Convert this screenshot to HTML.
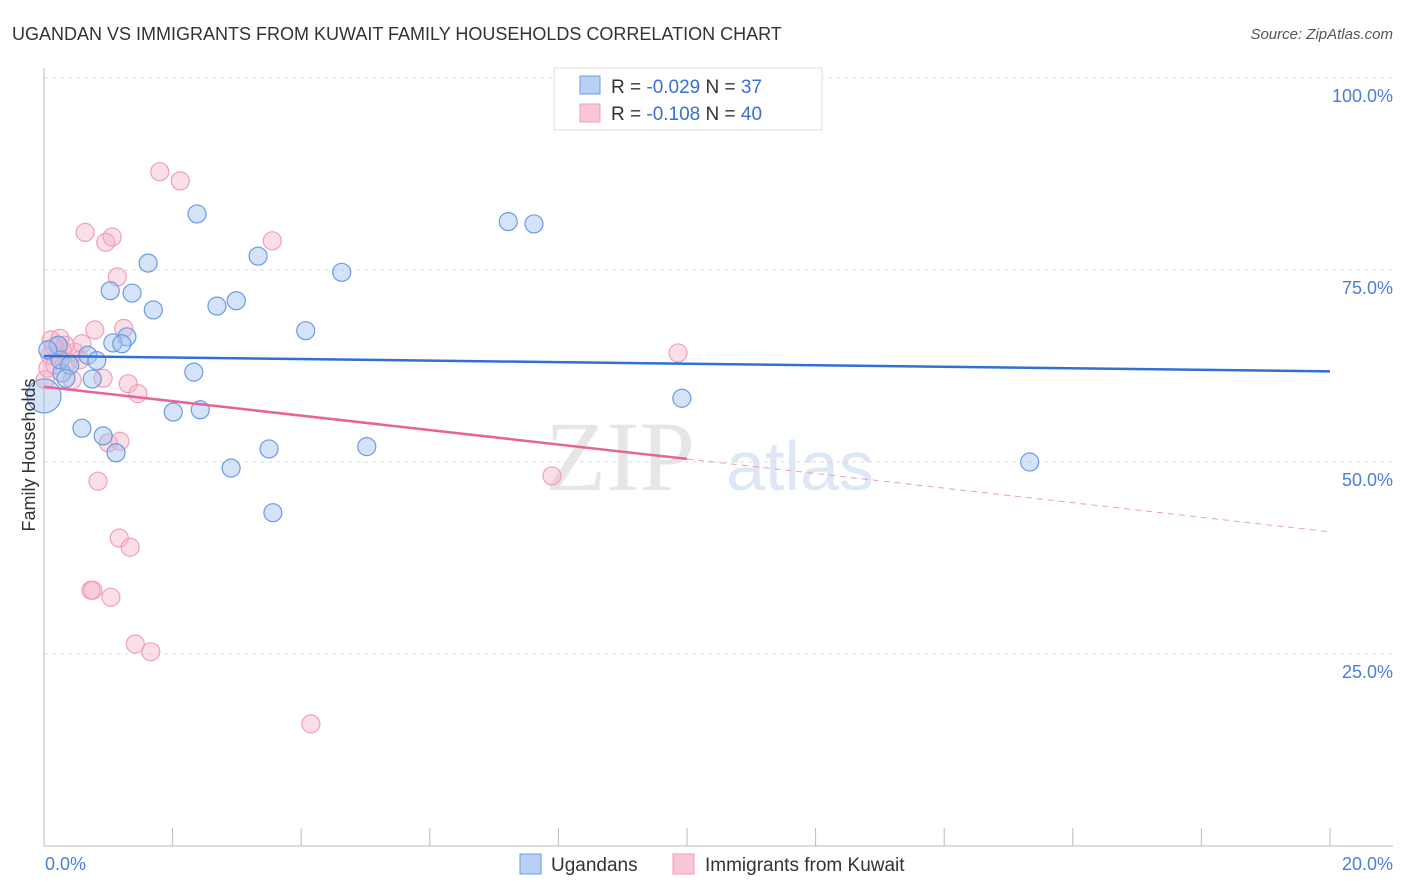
<!DOCTYPE html>
<html><head><meta charset="utf-8"><style>
body{margin:0;background:#fff;font-family:"Liberation Sans",sans-serif}
svg{display:block}
</style></head><body>
<svg width="1406" height="892" viewBox="0 0 1406 892">
<text x="12" y="40" font-size="18" fill="#333">UGANDAN VS IMMIGRANTS FROM KUWAIT FAMILY HOUSEHOLDS CORRELATION CHART</text>
<text x="1393" y="39" font-size="15" fill="#555" text-anchor="end" font-style="italic">Source: ZipAtlas.com</text>
<text x="620" y="490" font-size="100" fill="#e6e6e6" font-family="Liberation Serif" text-anchor="middle">ZIP</text>
<text x="800" y="490" font-size="70" fill="#dde7f5" text-anchor="middle">atlas</text>
<g id="grid"></g>
<g id="axes"></g>
<g id="pts"></g>
<g id="lines"></g>
<text x="35" y="455" font-size="18" fill="#333" text-anchor="middle" transform="rotate(-90 35 455)">Family Households</text>
<text x="45" y="870" font-size="18" fill="#4a7fd8">0.0%</text>
<text x="1393" y="870" font-size="18" fill="#4a7fd8" text-anchor="end">20.0%</text>
<g>
<rect x="554" y="68" width="268" height="62" fill="#fff" stroke="#ddd"/>
<rect x="580" y="76" width="20" height="18" fill="#b8d0f5" stroke="#6a9be0"/>
<rect x="580" y="104" width="20" height="18" fill="#f8c6d5" stroke="#f0a0b8"/>
<text x="611" y="93" font-size="19" fill="#333">R = <tspan fill="#3a6fd0">-0.029</tspan>   N = <tspan fill="#3a6fd0">37</tspan></text>
<text x="611" y="120" font-size="19" fill="#333">R =  <tspan fill="#3a6fd0">-0.108</tspan>   N = <tspan fill="#3a6fd0">40</tspan></text>
</g>
<g>
<rect x="520" y="854" width="21" height="20" fill="#b8d0f5" stroke="#6a9be0"/>
<text x="551" y="871" font-size="19" fill="#333">Ugandans</text>
<rect x="673" y="854" width="21" height="20" fill="#f8c6d5" stroke="#f0a0b8"/>
<text x="705" y="871" font-size="19" fill="#333">Immigrants from Kuwait</text>
</g>
</svg>
<script>
const yTicks=[100,75,50,25];
const yTickLabels=["100.0%","75.0%","50.0%","25.0%"];
const xTicks=[0,2,4,6,8,10,12,14,16,18,20];
const blueX=[2.38,7.22,7.62,1.62,3.33,4.63,1.03,1.37,2.99,2.69,1.70,4.07,1.29,1.07,1.21,0.22,0.68,0.82,0.28,0.75,2.33,9.92,2.01,2.43,0.59,0.92,1.12,3.50,5.02,2.91,15.33,3.56,0.0,0.25,0.40,0.06,0.34];
const blueY=[82.3,81.3,81.0,75.9,76.8,74.7,72.3,72.0,71.0,70.3,69.8,67.1,66.3,65.5,65.4,65.2,63.9,63.2,61.6,60.8,61.7,58.3,56.5,56.8,54.4,53.4,51.2,51.7,52.0,49.2,50.0,43.4,58.6,63.3,62.6,64.6,60.9];
const pinkX=[1.80,2.12,0.64,1.06,0.96,3.55,1.14,0.79,1.24,0.11,0.25,0.59,0.22,0.48,0.37,0.06,0.92,1.31,1.46,9.86,1.00,1.18,0.84,7.90,1.17,1.34,0.73,0.76,1.04,1.42,1.66,4.15,0.09,0.33,0.17,0.44,0.02,0.56,0.28,0.16];
const pinkY=[87.8,86.6,79.9,79.3,78.6,78.8,74.1,67.2,67.4,65.9,66.1,65.4,63.8,64.3,63.0,62.2,60.9,60.2,58.9,64.2,52.5,52.7,47.5,48.2,40.1,38.9,33.3,33.3,32.4,26.3,25.3,15.9,63.9,65.2,62.6,60.7,60.7,63.3,64.6,65.0];
const blueLine=[63.8,61.8];
const pinkLine=[59.8,50.4,40.9];
const pinkSolidEnd=10;
const sx=v=>44+v*64.3, sy=v=>846-v*7.68;
const NS="http://www.w3.org/2000/svg";
function mk(t,a,p){const e=document.createElementNS(NS,t);for(const k in a)e.setAttribute(k,a[k]);p.appendChild(e);return e;}
const grid=document.getElementById('grid');
yTicks.forEach((t,i)=>{
 const l=mk('line',{x1:44,x2:1393,y1:sy(t),y2:sy(t),stroke:'#ddd','stroke-dasharray':'4,4'},grid);
 
 
 const tx=mk('text',{x:1393,y:sy(t)+24,'font-size':18,fill:'#4a7fd8','text-anchor':'end'},grid);
 tx.textContent=yTickLabels[i];
 
 
});
const ax=document.getElementById('axes');
const yl=mk('line',{x1:44,x2:44,y1:68,y2:846,stroke:'#bbb'},ax);


const xl=mk('line',{x1:44,x2:1393,y1:846,y2:846,stroke:'#bbb'},ax);


xTicks.forEach(t=>{
 const l=mk('line',{x1:sx(t),x2:sx(t),y1:828,y2:846,stroke:'#bbb'},ax);
 
 
});
const pts=document.getElementById('pts');
pinkX.forEach((x,i)=>{
 const c=mk('circle',{cx:sx(x),cy:sy(pinkY[i]),r:9,fill:'rgba(245,175,198,0.4)',stroke:'#f0a0b8','stroke-width':1.2},pts);
 
 
});
blueX.forEach((x,i)=>{
 const c=mk('circle',{cx:sx(x),cy:sy(blueY[i]),r:i==32?17:9,fill:'rgba(160,192,240,0.45)',stroke:'#6a9be0','stroke-width':1.2},pts);
 
 
});
const ln=document.getElementById('lines');
const b=mk('line',{x1:sx(0),y1:sy(blueLine[0]),x2:sx(20),y2:sy(blueLine[1]),stroke:'#2f6fd6','stroke-width':2.5},ln);


const p1=mk('line',{x1:sx(0),y1:sy(pinkLine[0]),x2:sx(pinkSolidEnd),y2:sy(pinkLine[1]),stroke:'#e8639a','stroke-width':2.5},ln);


const p2=mk('line',{x1:sx(pinkSolidEnd),y1:sy(pinkLine[1]),x2:sx(20),y2:sy(pinkLine[2]),stroke:'#e8a0b8','stroke-width':1,'stroke-dasharray':'6,5'},ln);


</script>
</body></html>
